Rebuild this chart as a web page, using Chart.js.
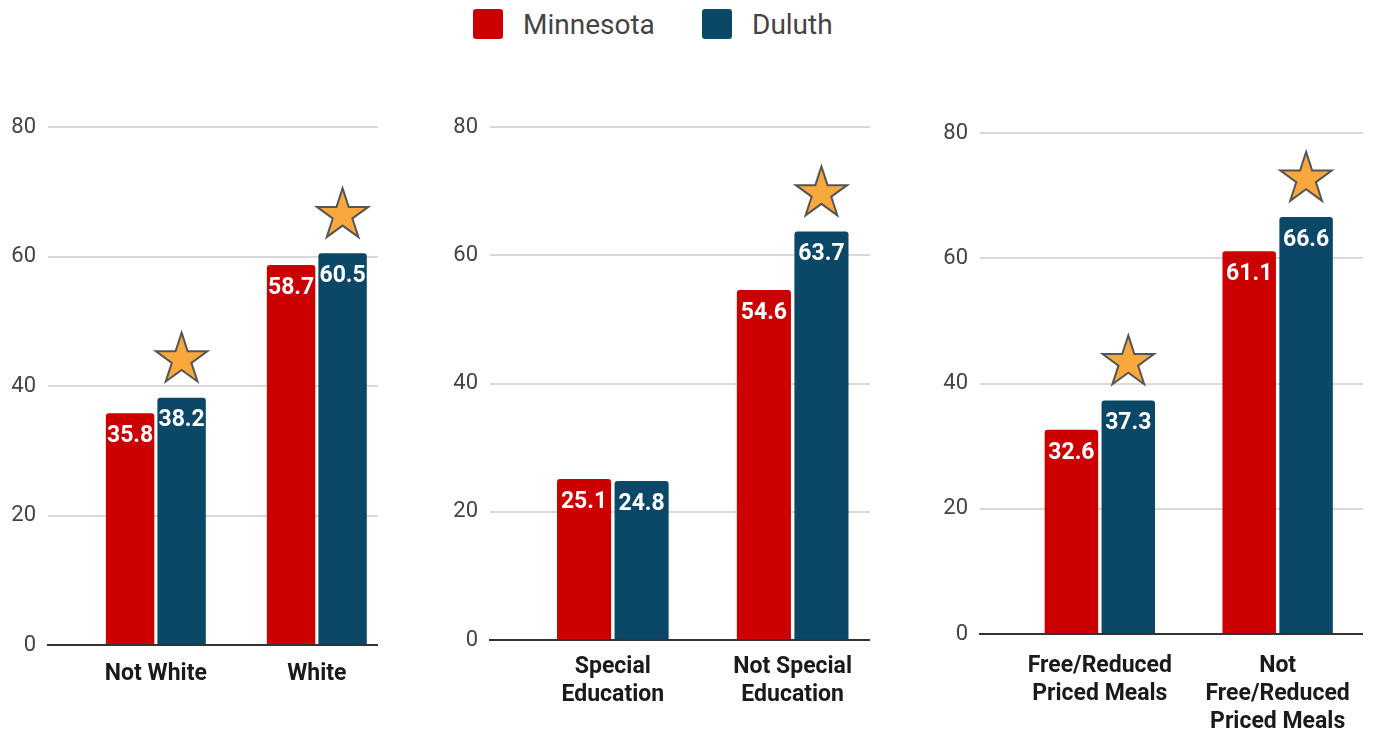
<!DOCTYPE html>
<html>
<head>
<meta charset="utf-8">
<script src="https://cdn.jsdelivr.net/npm/chart.js@4"></script>
<style>
  body{margin:0;background:#fff;width:1373px;height:734px;overflow:hidden;position:relative;font-family:Roboto,sans-serif}
  .pnl{position:absolute;top:100px}
  .leg{position:absolute;top:9px;height:30px;display:flex;align-items:center;font-size:28px;color:#444}
  .sw{width:30px;height:30px;border-radius:3px;margin-right:20px}
</style>
</head>
<body>
<div class="leg" style="left:473px"><div class="sw" style="background:#cc0000"></div>Minnesota</div>
<div class="leg" style="left:702px"><div class="sw" style="background:#0b4867"></div>Duluth</div>
<canvas id="p1" class="pnl" style="left:0px" width="378" height="634"></canvas>
<canvas id="p2" class="pnl" style="left:440px" width="430" height="634"></canvas>
<canvas id="p3" class="pnl" style="left:930px" width="433" height="634"></canvas>
<script>
// ---- data ----
const seriesNames=['Minnesota','Duluth'];
const seriesColors=['#cc0000','#0b4867'];
const yTicks=[0,20,40,60,80];

const raceLabels=['Not White','White'];
const raceMinnesota=[35.8,58.7];
const raceDuluth=[38.2,60.5];
const raceStars=[true,true];

const spedLabels=[['Special','Education'],['Not Special','Education']];
const spedMinnesota=[25.1,54.6];
const spedDuluth=[24.8,63.7];
const spedStars=[false,true];

const frpLabels=[['Free/Reduced','Priced Meals'],['Not','Free/Reduced','Priced Meals']];
const frpMinnesota=[32.6,61.1];
const frpDuluth=[37.3,66.6];
const frpStars=[true,true];

Chart.defaults.font.family='Roboto, sans-serif';

// value labels inside bar tops + stars over flagged Duluth bars
const barExtras={
  id:'barExtras',
  afterDatasetsDraw(chart,args,opts){
    const ctx=chart.ctx;
    ctx.save();
    chart.data.datasets.forEach((ds,di)=>{
      chart.getDatasetMeta(di).data.forEach((bar,i)=>{
        ctx.font='bold 23px Roboto';
        ctx.fillStyle='#fff';
        ctx.textAlign='center';
        ctx.textBaseline='middle';
        ctx.fillText(ds.data[i].y.toFixed(1),bar.x,bar.y+23);
        if(di===1&&opts.stars[i]) drawStar(ctx,bar.x,bar.y-38,27);
      });
    });
    ctx.restore();
  }
};

function drawStar(ctx,cx,cy,r){
  const ri=r*0.382;
  ctx.beginPath();
  for(let k=0;k<10;k++){
    const rr=k%2?ri:r;
    const a=-Math.PI/2+k*Math.PI/5;
    const px=cx+rr*Math.cos(a),py=cy+rr*Math.sin(a);
    k?ctx.lineTo(px,py):ctx.moveTo(px,py);
  }
  ctx.closePath();
  ctx.fillStyle='#f9a83e';
  ctx.fill();
  ctx.strokeStyle='#555';
  ctx.lineWidth=2;
  ctx.lineJoin='miter';
  ctx.stroke();
}

function makePanel(id,labels,mn,dl,stars,cfg){
  const series=[mn,dl];
  new Chart(document.getElementById(id),{
    type:'bar',
    data:{datasets:series.map((vals,s)=>({
      label:seriesNames[s],
      data:vals.map((v,i)=>({x:i,y:v})),
      backgroundColor:seriesColors[s],
      borderRadius:3,borderSkipped:'start',
      categoryPercentage:0.64,barPercentage:0.94
    }))},
    options:{
      responsive:false,animation:false,
      layout:{padding:{top:cfg.top,left:0,right:0,bottom:0}},
      plugins:{legend:{display:false},tooltip:{enabled:false},barExtras:{stars}},
      scales:{
        x:{type:'linear',min:cfg.xmin,max:cfg.xmax,offset:false,
          afterBuildTicks:s=>{s.ticks=labels.map((l,i)=>({value:i}));},
          afterFit:s=>{s.height=cfg.xh;s.paddingLeft=0;s.paddingRight=0;},
          grid:{display:false,offset:false},
          border:{display:true,color:'#333',width:2},
          ticks:{autoSkip:false,maxRotation:0,padding:cfg.lp,color:'#1a1a1a',
            font:{size:23,weight:'bold',lineHeight:1.22},
            callback:v=>labels[v]}},
        y:{min:0,max:80,
          afterBuildTicks:s=>{s.ticks=yTicks.map(v=>({value:v}));},
          afterFit:s=>{s.width=cfg.yw;},
          grid:{color:'#d9d9d9',lineWidth:2,drawTicks:false},
          border:{display:false},
          ticks:{padding:12,color:'#444',font:{size:22}}}
      }
    },
    plugins:[barExtras]
  });
}

makePanel('p1',raceLabels,raceMinnesota,raceDuluth,raceStars,{top:27,xh:89,yw:48,lp:7,xmin:-0.67,xmax:1.38});
makePanel('p2',spedLabels,spedMinnesota,spedDuluth,spedStars,{top:27,xh:94,yw:50,lp:5,xmin:-0.683,xmax:1.43});
makePanel('p3',frpLabels,frpMinnesota,frpDuluth,frpStars,{top:33,xh:100,yw:50,lp:10,xmin:-0.674,xmax:1.48});
</script>
</body>
</html>
